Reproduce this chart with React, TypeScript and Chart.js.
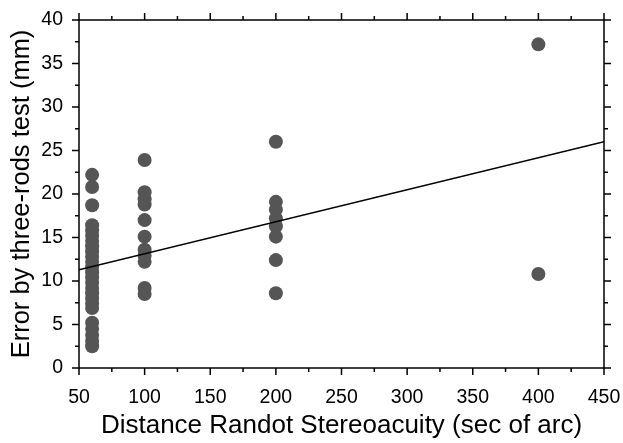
import React, { useEffect, useRef } from "react";
import { Chart, registerables } from "chart.js";

Chart.register(...registerables);

const xAt60 = [22.2, 20.8, 18.7, 16.4, 15.8, 15.2, 14.6, 14.0, 13.4, 12.8, 12.2, 11.6, 11.0, 10.4, 9.8, 9.2, 8.6, 8.0, 7.4, 6.9, 5.2, 4.5, 3.8, 3.1, 2.5];
const xAt100 = [23.9, 20.2, 19.4, 18.8, 17.0, 15.1, 13.6, 12.9, 12.2, 9.2, 8.5];
const xAt200 = [26.0, 19.1, 18.2, 17.2, 16.3, 15.1, 12.4, 8.6];
const xAt400 = [37.2, 10.8];
const groups: [number, number[]][] = [
  [60, xAt60],
  [100, xAt100],
  [200, xAt200],
  [400, xAt400],
];
const regressionX = [50, 450];
const regressionY = [11.3, 26.0];

const xMajorTicks = [50, 100, 150, 200, 250, 300, 350, 400, 450];
const xMinorTicks = [75, 125, 175, 225, 275, 325, 375, 425];
const yMajorTicks = [0, 5, 10, 15, 20, 25, 30, 35, 40];
const yMinorTicks = [2.5, 7.5, 12.5, 17.5, 22.5, 27.5, 32.5, 37.5];

const xTitle = "Distance Randot Stereoacuity (sec of arc)";
const yTitle = "Error by three-rods test (mm)";

const frameTicks = {
  id: "frameTicks",
  afterDraw(chart: any) {
    const { ctx, chartArea: a, scales } = chart;
    const xs = scales.x;
    const ys = scales.y;
    ctx.save();
    ctx.strokeStyle = "#000";
    ctx.lineWidth = 1.5;
    ctx.strokeRect(a.left, a.top, a.right - a.left, a.bottom - a.top);
    const major = 7;
    const minor = 4;
    ctx.beginPath();
    const xt = (v: number, len: number) => {
      const p = xs.getPixelForValue(v);
      ctx.moveTo(p, a.bottom);
      ctx.lineTo(p, a.bottom + len);
      ctx.moveTo(p, a.top);
      ctx.lineTo(p, a.top - len);
    };
    const yt = (v: number, len: number) => {
      const p = ys.getPixelForValue(v);
      ctx.moveTo(a.left, p);
      ctx.lineTo(a.left - len, p);
      ctx.moveTo(a.right, p);
      ctx.lineTo(a.right + len, p);
    };
    xMajorTicks.forEach((v) => xt(v, major));
    xMinorTicks.forEach((v) => xt(v, minor));
    yMajorTicks.forEach((v) => yt(v, major));
    yMinorTicks.forEach((v) => yt(v, minor));
    ctx.stroke();
    ctx.restore();
  },
};

const zeroPad = (s: any) => {
  s.paddingLeft = 0;
  s.paddingRight = 0;
  s.paddingTop = 0;
  s.paddingBottom = 0;
};

export default function App() {
  const ref = useRef<HTMLCanvasElement>(null);
  useEffect(() => {
    document.body.style.margin = "0";
    const points: { x: number; y: number }[] = [];
    groups.forEach(([x, ys]) => ys.forEach((y) => points.push({ x, y })));
    const chart = new Chart(ref.current!, {
      type: "scatter",
      data: {
        datasets: [
          {
            type: "line",
            data: regressionX.map((x, i) => ({ x, y: regressionY[i] })),
            borderColor: "#000",
            borderWidth: 1.5,
            pointRadius: 0,
            fill: false,
          } as any,
          {
            data: points,
            backgroundColor: "#555555",
            borderWidth: 0,
            pointRadius: 7,
          },
        ],
      },
      options: {
        responsive: false,
        animation: false,
        layout: { padding: { top: 20, right: 19, left: 0, bottom: 0 } },
        plugins: { legend: { display: false }, tooltip: { enabled: false } },
        scales: {
          x: {
            type: "linear",
            min: 50,
            max: 450,
            afterFit: (s: any) => {
              s.height = 75;
              zeroPad(s);
            },
            grid: { display: false, drawTicks: false, tickLength: 0 },
            border: { display: false },
            ticks: {
              stepSize: 50,
              padding: 18,
              color: "#000",
              font: { family: "'Liberation Sans Narrow', 'Liberation Sans', Arial, sans-serif", size: 19.5 },
            },
            title: {
              display: true,
              text: xTitle,
              color: "#000",
              padding: { top: 0, bottom: 2 },
              font: { family: "'Liberation Sans', Arial, sans-serif", size: 26 },
            },
          },
          y: {
            type: "linear",
            min: 0,
            max: 40,
            afterFit: (s: any) => {
              s.width = 79;
              zeroPad(s);
            },
            grid: { display: false, drawTicks: false, tickLength: 0 },
            border: { display: false },
            ticks: {
              stepSize: 5,
              padding: 16,
              color: "#000",
              font: { family: "'Liberation Sans Narrow', 'Liberation Sans', Arial, sans-serif", size: 19.5 },
            },
            title: {
              display: true,
              text: yTitle,
              color: "#000",
              padding: { top: 7, bottom: 0 },
              font: { family: "'Liberation Sans', Arial, sans-serif", size: 25.5 },
            },
          },
        },
      },
      plugins: [frameTicks],
    });
    return () => chart.destroy();
  }, []);
  return (
    <div style={{ position: "absolute", left: 0, top: 0, width: 623, height: 443, background: "#fff" }}>
      <canvas ref={ref} width={623} height={443} />
    </div>
  );
}
